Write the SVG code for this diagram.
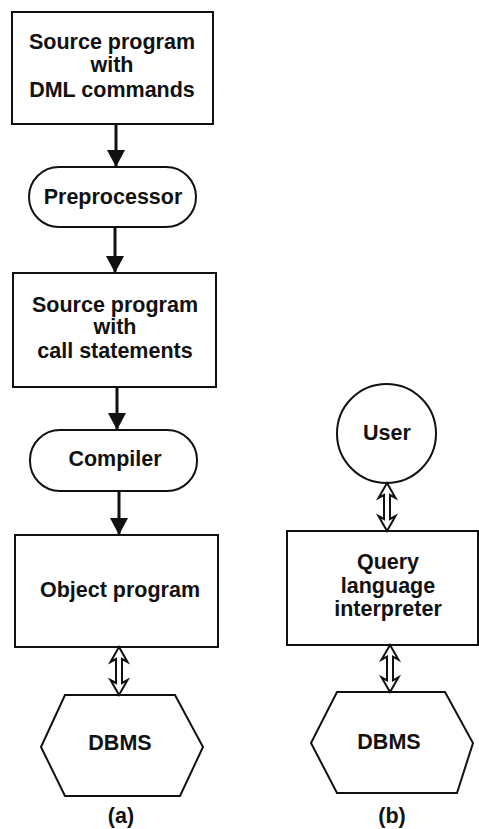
<svg xmlns="http://www.w3.org/2000/svg" xmlns:xlink="http://www.w3.org/1999/xlink" width="479" height="829" viewBox="0 0 479 829">
  <style>
    .shape { fill: #ffffff; stroke: #111111; stroke-width: 2; }
    .flow { stroke: #111111; stroke-width: 3; fill: none; }
    .dbl { fill: #ffffff; stroke: #111111; stroke-width: 2; stroke-linejoin: miter; }
    text { font-family: "Liberation Sans", Arial, Helvetica, sans-serif; font-weight: bold; font-size: 21.5px; fill: #111111; text-anchor: middle; }
  </style>
  <defs>
    <marker id="head" markerUnits="userSpaceOnUse" markerWidth="18" markerHeight="18" viewBox="0 0 18 18" refX="17" refY="9" orient="auto">
      <path d="M0,0 L17,9 L0,18 Z" fill="#111111"/>
    </marker>
    <!-- hollow two-way arrow, 48 units long, tip at origin -->
    <path id="dbl" class="dbl" d="M0,0 L8.5,15 L3,12 L3,36 L8.5,33 L0,48 L-8.5,33 L-3,36 L-3,12 L-8.5,15 Z"/>
  </defs>

  <rect width="479" height="829" fill="#ffffff"/>

  <!-- (a) compiled program path -->
  <g id="src-dml">
    <rect class="shape" x="12" y="12" width="201" height="112"/>
    <text x="112" y="49">Source program</text>
    <text x="112" y="72">with</text>
    <text x="112" y="97">DML commands</text>
  </g>
  <g id="preprocessor">
    <rect class="shape" x="29" y="167" width="167" height="60" rx="30" ry="30"/>
    <text x="113" y="204">Preprocessor</text>
  </g>
  <g id="src-call">
    <rect class="shape" x="13" y="273" width="203" height="114"/>
    <text x="115" y="312">Source program</text>
    <text x="115" y="334">with</text>
    <text x="115" y="358">call statements</text>
  </g>
  <g id="compiler">
    <rect class="shape" x="30" y="430" width="167" height="61" rx="30" ry="30"/>
    <text x="115" y="466">Compiler</text>
  </g>
  <g id="object">
    <rect class="shape" x="15" y="535" width="203" height="112"/>
    <text x="120" y="597">Object program</text>
  </g>
  <g id="dbms-a">
    <polygon class="shape" points="65,695 175,695 203,747 180,796 65,796 41,747"/>
    <text x="120" y="750">DBMS</text>
  </g>
  <text id="label-a" x="121" y="823">(a)</text>

  <!-- (b) interactive query path -->
  <g id="user">
    <circle class="shape" cx="386.5" cy="433.5" r="49.5"/>
    <text x="387" y="440">User</text>
  </g>
  <g id="interpreter">
    <rect class="shape" x="287" y="531" width="191" height="114"/>
    <text x="388" y="569">Query</text>
    <text x="388" y="593">language</text>
    <text x="388" y="616">interpreter</text>
  </g>
  <g id="dbms-b">
    <polygon class="shape" points="337,692 445,692 473,743 457,793 337,793 311,743"/>
    <text x="389" y="749">DBMS</text>
  </g>
  <text id="label-b" x="392" y="823">(b)</text>

  <g id="connectors">
    <line class="flow" x1="116" y1="124" x2="116" y2="167" marker-end="url(#head)"/>
    <line class="flow" x1="115" y1="227" x2="115" y2="273" marker-end="url(#head)"/>
    <line class="flow" x1="117" y1="387" x2="117" y2="430" marker-end="url(#head)"/>
    <line class="flow" x1="119" y1="491" x2="119" y2="535" marker-end="url(#head)"/>
    <use xlink:href="#dbl" x="119" y="647"/>
    <use xlink:href="#dbl" x="387" y="483"/>
    <use xlink:href="#dbl" transform="translate(390,645) scale(1,0.98)"/>
  </g>
</svg>
